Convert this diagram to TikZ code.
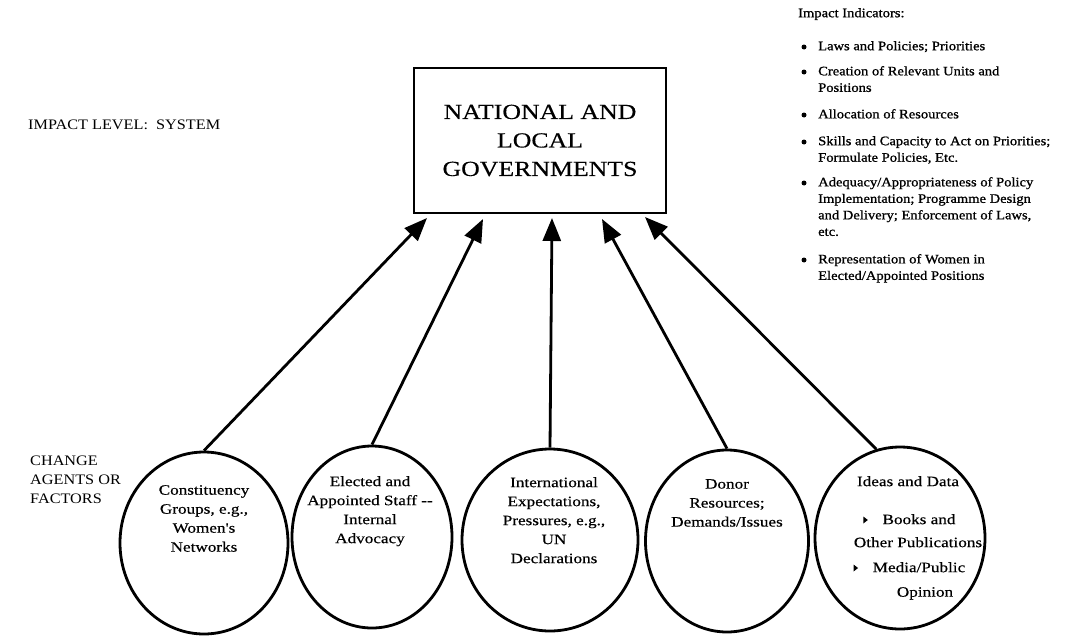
\documentclass[tikz,border=0pt]{standalone}
\usepackage{fontspec}
\setmainfont{Liberation Serif}
\newfontfamily\scanserif[FakeStretch=1.12]{Liberation Serif}
\newfontfamily\widescan[FakeStretch=1.2,FakeBold=0.4]{Liberation Serif}
\newfontfamily\listscan[FakeStretch=1.12,FakeBold=1]{Liberation Serif}
\usetikzlibrary{shapes.geometric,arrows.meta}
\begin{document}
\begin{tikzpicture}[x=1pt,y=-1pt,
  agent/.style={draw,line width=2.8pt,ellipse,minimum width=168pt,minimum height=182pt,inner sep=0pt},
  agenttext/.style={align=center,inner sep=0pt,anchor=north,
    font=\widescan\fontsize{14.3}{19}\selectfont},
  sidelabel/.style={align=left,inner sep=0pt,anchor=north west,
    font=\scanserif\fontsize{14.5}{19}\selectfont},
  indicator/.style={align=left,inner sep=0pt,anchor=north west,
    font=\listscan\fontsize{13}{16.5}\selectfont},
  dot/.style={circle,fill,inner sep=0pt,minimum size=5pt},
  marker/.style={fill,inner sep=0pt,minimum size=0pt},
  push/.style={line width=2.8pt,-{Triangle[length=23pt,width=18pt]}}
]
\useasboundingbox (0,0) rectangle (1065,637);

% system level
\node[draw,line width=2.8pt,minimum width=252pt,minimum height=145pt,inner sep=0pt,
  align=center,font=\widescan\fontsize{21.5}{28.5}\selectfont] (gov) at (540,140.5)
  {NATIONAL AND\\LOCAL\\GOVERNMENTS};

\node[sidelabel,anchor=west] (level) at (28,125) {IMPACT LEVEL:~~SYSTEM};
\node[sidelabel] (agents) at (30,456) {CHANGE\\AGENTS OR\\FACTORS};

% indicator list
\node[indicator] (ihead) at (798,8) {Impact Indicators:};
\node[indicator] (i1) at (818,41) {Laws and Policies; Priorities};
\node[indicator] (i2) at (818,66) {Creation of Relevant Units and\\Positions};
\node[indicator] (i3) at (818,109) {Allocation of Resources};
\node[indicator] (i4) at (818,136) {Skills and Capacity to Act on Priorities;\\Formulate Policies, Etc.};
\node[indicator] (i5) at (818,177) {Adequacy/Appropriateness of Policy\\Implementation; Programme Design\\and Delivery; Enforcement of Laws,\\etc.};
\node[indicator] (i6) at (818,254) {Representation of Women in\\Elected/Appointed Positions};
\foreach \i in {1,...,6}
  \node[dot] (b\i) at ([xshift=-14pt,yshift=-6pt]i\i.north west) {};

% change agents
\node[agent] (c1) at (204,543) {};
\node[agent,minimum width=160pt] (c2) at (372,537) {};
\node[agent,minimum width=176pt] (c3) at (550,540) {};
\node[agent,minimum width=163pt] (c4) at (727,541) {};
\node[agent,minimum width=170pt] (c5) at (900,538) {};

\node[agenttext] (l1) at (204,485) {Constituency\\Groups, e.g.,\\Women's\\Networks};
\node[agenttext] (l2) at (370,476) {Elected and\\Appointed Staff --\\Internal\\Advocacy};
\node[agenttext] (l3) at (554,477) {International\\Expectations,\\Pressures, e.g.,\\UN\\Declarations};
\node[agenttext] (l4) at (727,479) {Donor\\Resources;\\Demands/Issues};
\node[agenttext] (l5a) at (908,476) {Ideas and Data};
\node[agenttext] (l5b) at (919,514) {Books and};
\node[agenttext] (l5c) at (918,537) {Other Publications};
\node[agenttext] (l5d) at (919,562) {Media/Public};
\node[agenttext] (l5e) at (925,587) {Opinion};
% sub-list markers: small solid arrowheads
\coordinate (m1) at ([xshift=-17pt,yshift=-6pt]l5b.north west);
\coordinate (m2) at ([xshift=-17pt,yshift=-6pt]l5d.north west);
\foreach \m in {m1,m2}
  \fill ([shift={(-2pt,-3.5pt)}]\m) -- ([shift={(2.5pt,0pt)}]\m) -- ([shift={(-2pt,3.5pt)}]\m) -- cycle;

% influences
\coordinate (t1) at (427,218);
\coordinate (t2) at (483,219);
\coordinate (t3) at (552,218);
\coordinate (t4) at (602,219);
\coordinate (t5) at (645,217);
\draw[push] (c1.north) -- (t1);
\draw[push] (c2.north) -- (t2);
\draw[push] (c3.north) -- (t3);
\draw[push] (c4.north) -- (t4);
\draw[push] (c5.105) -- (t5);
\end{tikzpicture}
\end{document}
